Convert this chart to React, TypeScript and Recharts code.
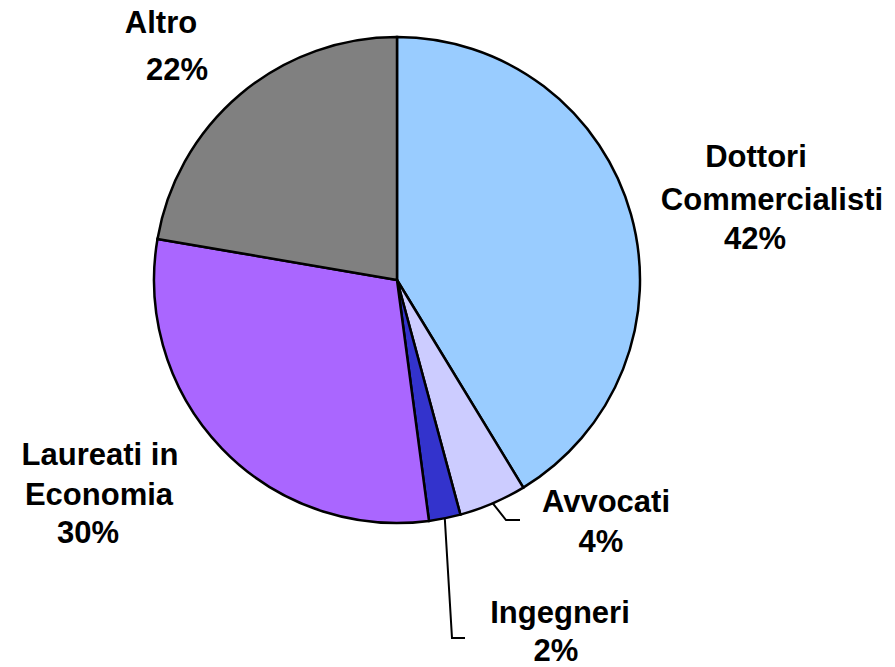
import { PieChart, Pie, Cell } from "recharts"

const categories = ["Dottori Commercialisti", "Avvocati", "Ingegneri", "Laureati in Economia", "Altro"]
const shares = [41.3, 4.5, 2.1, 29.8, 22.3]
const percentLabels = ["42%", "4%", "2%", "30%", "22%"]
const colors = ["#99CCFF", "#CCCCFF", "#3333CC", "#AA66FF", "#808080"]

const data = categories.map((name, i) => ({ name, value: shares[i] }))

// label text lines and where they sit (baseline)
const labelLayout = [
  { lines: [["Dottori", 756, 167], ["Commercialisti", 772, 210], ["42%", 755, 249]] },
  { lines: [["Avvocati", 606, 512], ["4%", 601, 552]], leader: [[506, 520], [520, 520]] },
  { lines: [["Ingegneri", 560, 623], ["2%", 556, 661]], leader: [[452, 638], [465, 638]] },
  { lines: [["Laureati in", 100, 465], ["Economia", 99, 505], ["30%", 88, 543]] },
  { lines: [["Altro", 161, 33], ["22%", 177, 80]] },
]

const RAD = Math.PI / 180

function renderLabel(props: any) {
  const { cx, cy, midAngle, outerRadius, index } = props
  const layout = labelLayout[index]
  const text = [...layout.lines]
  // last line carries the percent text
  text[text.length - 1] = [percentLabels[index], text[text.length - 1][1], text[text.length - 1][2]]
  let leader = null
  if (layout.leader) {
    const sx = cx + outerRadius * Math.cos(-midAngle * RAD)
    const sy = cy + outerRadius * Math.sin(-midAngle * RAD)
    const pts = [[sx, sy], ...layout.leader].map((p) => p.join(",")).join(" ")
    leader = <polyline points={pts} fill="none" stroke="#000" strokeWidth={2} />
  }
  return (
    <g key={`lbl-${index}`}>
      {leader}
      {text.map(([t, x, y]: any, k: number) => (
        <text
          key={k}
          x={x}
          y={y}
          textAnchor="middle"
          fontFamily="'Liberation Sans', Arial, sans-serif"
          fontWeight="bold"
          fontSize={31}
          fill="#000"
        >
          {t}
        </text>
      ))}
    </g>
  )
}

export default function App() {
  return (
    <div style={{ position: "absolute", left: 0, top: 0, width: 895, height: 667, background: "#fff" }}>
      <PieChart width={895} height={667} margin={{ top: 0, right: 0, bottom: 0, left: 0 }}>
        <Pie
          data={data}
          dataKey="value"
          nameKey="name"
          cx={397}
          cy={280}
          outerRadius={243}
          startAngle={90}
          endAngle={-270}
          stroke="#000"
          strokeWidth={2.5}
          label={renderLabel}
          labelLine={false}
          isAnimationActive={false}
        >
          {data.map((d, i) => (
            <Cell key={d.name} fill={colors[i]} />
          ))}
        </Pie>
      </PieChart>
    </div>
  )
}
